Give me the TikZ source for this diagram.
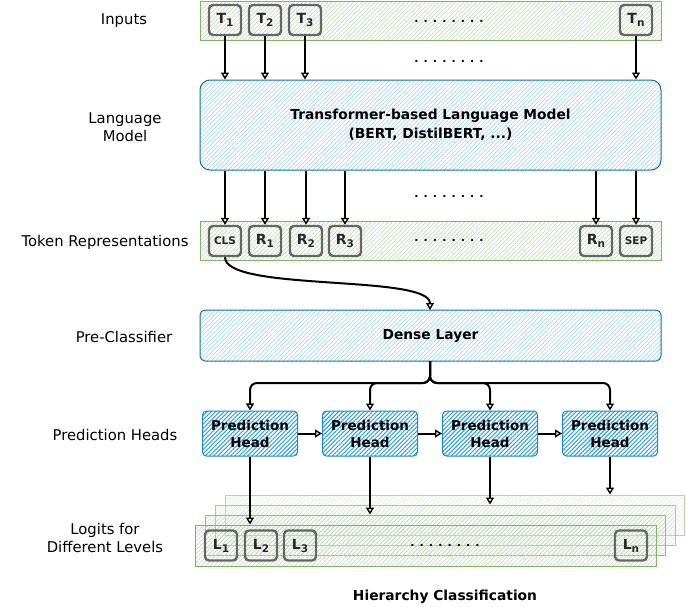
\documentclass[tikz,border=0pt]{standalone}
\usepackage{fontspec}
\setmainfont{DejaVu Sans}
\usetikzlibrary{arrows.meta,patterns.meta}
\newcommand\sbs[1]{\raisebox{-3pt}{\fontsize{10.5}{10.5}\selectfont #1}}
\definecolor{gstroke}{HTML}{82B366}
\definecolor{ghatch}{HTML}{C6DDBF}
\definecolor{bstroke}{HTML}{10739E}
\definecolor{bhatch}{HTML}{A9D6EE}
\definecolor{pstroke}{HTML}{1F88C8}
\definecolor{phatch}{HTML}{3BA4DC}
\definecolor{tokgray}{HTML}{666666}
\begin{document}
\begin{tikzpicture}[x=1pt,y=-1pt,
  band/.style={draw=gstroke, line width=1pt, pattern={Lines[angle=45,distance=3pt,line width=0.7pt]}, pattern color=ghatch, minimum width=461, minimum height=39, inner sep=0},
  lmbox/.style={draw=bstroke, line width=1pt, pattern={Lines[angle=45,distance=3pt,line width=0.7pt]}, pattern color=bhatch, inner sep=0, align=center, font=\bfseries\fontsize{13.8}{19}\selectfont, minimum width=461},
  tok/.style={draw=tokgray, line width=2.4pt, rounded corners=4pt, minimum width=32, minimum height=30, inner sep=0, font=\bfseries\fontsize{14}{14}\selectfont, text=black!85},
  smalltok/.style={tok, font=\bfseries\fontsize{10.5}{10.5}\selectfont},
  headbox/.style={draw=pstroke, line width=1pt, rounded corners=4pt, pattern={Lines[angle=45,distance=3pt,line width=1.1pt]}, pattern color=phatch, minimum width=95, minimum height=45, align=center, font=\bfseries\fontsize{13.5}{17}\selectfont, inner sep=0},
  lbl/.style={font=\fontsize{14.8}{18}\selectfont, align=center},
  arr/.style={line width=2pt, -{Triangle[open, length=7pt, width=8pt, fill=white, line width=1.4pt]}},
  dotsy/.style={font=\bfseries\fontsize{11}{11}\selectfont}
]
\useasboundingbox (0,0) rectangle (686,606);

% left labels
\node[lbl] (linp) at (124,21) {Inputs};
\node[lbl] (llm) at (125,127) {Language\\Model};
\node[lbl] (ltok) at (105,242) {Token Representations};
\node[lbl] (lpre) at (124,337) {Pre-Classifier};
\node[lbl] (lph) at (115,435) {Prediction Heads};
\node[lbl] (llog) at (105,538) {Logits for\\Different Levels};

% inputs
\node[band] (inband) at (430.5,20.5) {};
\node[tok] (t1) at (225,20) {T\sbs{1}};
\node[tok] (t2) at (265,20) {T\sbs{2}};
\node[tok] (t3) at (305,20) {T\sbs{3}};
\node[tok] (tn) at (636,20) {T\sbs{n}};
\node[dotsy] (d1) at (449,21) {. . . . . . . .};
\node[dotsy] (d2) at (449,61) {. . . . . . . .};

% language model
\node[lmbox, rounded corners=10pt, minimum height=90] (lm) at (430.5,125) {Transformer-based Language Model\\(BERT, DistilBERT, ...)};
\foreach \t in {t1,t2,t3,tn} \draw[arr] (\t.south) -- (\t.south |- lm.north);

% token representations
\node[band] (repband) at (430.5,240.5) {};
\node[smalltok] (cls) at (225,241) {CLS};
\node[tok] (r1) at (265,241) {R\sbs{1}};
\node[tok] (r2) at (306,241) {R\sbs{2}};
\node[tok] (r3) at (345,241) {R\sbs{3}};
\node[tok] (rn) at (596,241) {R\sbs{n}};
\node[smalltok] (sep) at (636,241) {SEP};
\node[dotsy] (d3) at (449,240) {. . . . . . . .};
\node[dotsy] (d4) at (449,196) {. . . . . . . .};
\foreach \t in {cls,r1,r2,r3,rn,sep} \draw[arr] (\t.north |- lm.south) -- (\t.north);

% dense layer
\node[lmbox, rounded corners=5pt, minimum height=51] (dense) at (430.5,335.5) {Dense Layer};
\coordinate (dtop) at (430,310);
\coordinate (dbot) at (430,361);
\draw[arr] (cls.south) .. controls (225,292) and (430,274) .. (dtop);

% prediction heads
\node[headbox] (ph1) at (250,433.5) {Prediction\\Head};
\node[headbox] (ph2) at (370,433.5) {Prediction\\Head};
\node[headbox] (ph3) at (490,433.5) {Prediction\\Head};
\node[headbox] (ph4) at (610,433.5) {Prediction\\Head};
\foreach \p in {ph1,ph2,ph3,ph4} \draw[arr, rounded corners=7pt] (dbot) -- ++(0,22) -| (\p.north);
\draw[arr] (ph1.east) -- (ph2.west);
\draw[arr] (ph2.east) -- (ph3.west);
\draw[arr] (ph3.east) -- (ph4.west);

% logits layers
\node[band, draw opacity=0.55, pattern color=ghatch!80, minimum height=40, minimum width=459] (lay4) at (455,515) {};
\node[band, draw opacity=0.65, pattern color=ghatch!85, minimum height=40, minimum width=460] (lay3) at (445,525) {};
\node[band, draw opacity=0.8, minimum height=40, minimum width=460] (lay2) at (435,535) {};
\node[band, minimum height=41] (lay1) at (425.5,545.5) {};
\node[tok] (l1) at (221,545.5) {L\sbs{1}};
\node[tok] (l2) at (261,545.5) {L\sbs{2}};
\node[tok] (l3) at (300,545.5) {L\sbs{3}};
\node[tok] (ln) at (631,545.5) {L\sbs{n}};
\node[dotsy] (d5) at (445,545) {. . . . . . . .};
\draw[arr] (ph1.south) -- (ph1.south |- lay1.north);
\draw[arr] (ph2.south) -- (ph2.south |- lay2.north);
\draw[arr] (ph3.south) -- (ph3.south |- lay3.north);
\draw[arr] (ph4.south) -- (ph4.south |- lay4.north);

\node[font=\bfseries\fontsize{13.8}{14}\selectfont] (title) at (445,597) {Hierarchy Classification};
\end{tikzpicture}
\end{document}
